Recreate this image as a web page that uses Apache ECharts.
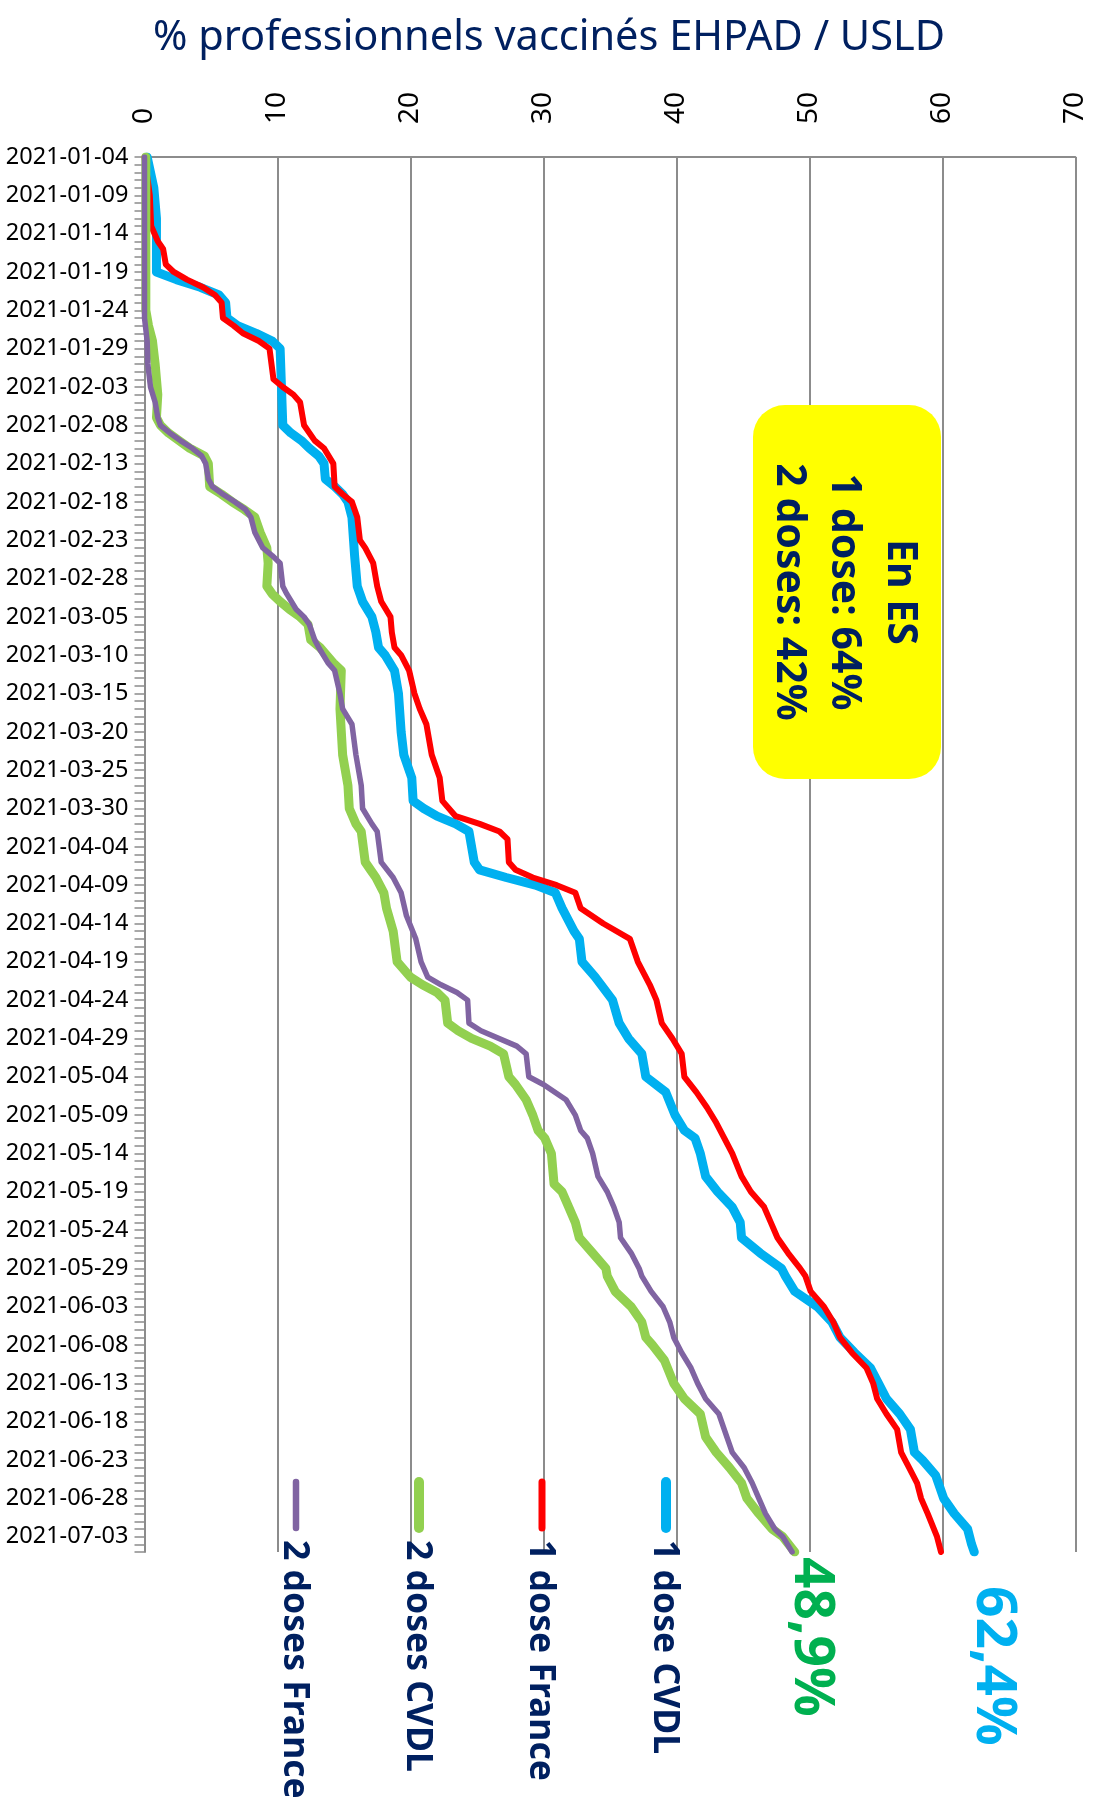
<!DOCTYPE html>
<html><head><meta charset="utf-8">
<script src="https://cdn.jsdelivr.net/npm/echarts@6/dist/echarts.min.js"></script>
<style>html,body{margin:0;padding:0;background:#fff}#c{width:1098px;height:1805px}</style>
</head><body><div id="c"></div>
<script>
// ---- categories (one per day) ----
const startDate = [2021, 0, 4];
const dayCount = 183;
const categories = [];
for (let i = 0; i < dayCount; i++) {
  categories.push(new Date(Date.UTC(startDate[0], startDate[1], startDate[2] + i)).toISOString().slice(0, 10));
}
const valueTicks = [0, 10, 20, 30, 40, 50, 60, 70];
const seriesNames = ['1 dose CVDL', '1 dose France', '2 doses CVDL', '2 doses France'];

// ---- series values: [dayIndex, percent] ----
const dose1CVDL = [[0,0.2],[4,0.7],[8,0.9],[15,0.9],[16,2.4],[17,4.2],[18,5.6],[19,6.1],[21,6.2],[22,7.0],[23,8.4],[24,9.6],[25,10.2],[30,10.3],[35,10.4],[36,11.0],[37,11.8],[38,12.4],[39,13.1],[40,13.5],[42,13.6],[43,14.3],[44,14.9],[45,15.3],[47,15.6],[52,15.8],[56,16.0],[58,16.4],[60,17.1],[62,17.4],[64,17.6],[65,18.1],[67,18.8],[70,19.1],[75,19.3],[78,19.5],[81,20.1],[84,20.2],[85,21.0],[86,22.0],[87,23.4],[88,24.4],[92,24.8],[93,25.2],[94,27.2],[95,29.4],[96,30.9],[98,31.4],[101,32.3],[102,32.7],[105,32.9],[107,33.9],[110,35.2],[113,35.7],[115,36.4],[117,37.4],[120,37.7],[122,39.2],[125,39.9],[127,40.6],[128,41.4],[130,41.8],[133,42.2],[135,43.1],[137,44.2],[139,44.8],[141,44.9],[143,46.3],[145,47.9],[146,48.2],[148,48.9],[150,50.6],[152,51.7],[154,52.3],[156,53.4],[158,54.6],[160,55.2],[162,55.8],[164,56.8],[166,57.6],[169,57.9],[170,58.5],[172,59.5],[175,60.1],[177,60.9],[179,61.9],[181,62.2],[182,62.4]];
const dose1France = [[0,0],[5,0.4],[9,0.5],[11,1.0],[12,1.4],[14,1.6],[15,2.2],[16,3.2],[17,4.4],[18,5.3],[19,5.8],[21,5.9],[22,6.7],[23,7.4],[24,8.6],[25,9.4],[29,9.7],[30,10.4],[31,11.2],[32,11.7],[35,12.0],[37,12.8],[38,13.5],[40,14.2],[43,14.3],[44,14.9],[45,15.6],[47,16.0],[50,16.2],[51,16.6],[53,17.2],[56,17.5],[58,17.8],[60,18.5],[62,18.6],[64,18.8],[65,19.3],[67,19.9],[70,20.3],[72,20.7],[74,21.2],[78,21.6],[81,22.2],[84,22.4],[86,23.4],[87,25.2],[88,26.7],[89,27.3],[92,27.4],[93,27.9],[94,29.2],[95,31.0],[96,32.4],[98,32.8],[100,34.5],[102,36.5],[105,37.1],[108,38.0],[110,38.5],[113,38.9],[115,39.7],[117,40.4],[120,40.6],[122,41.5],[124,42.3],[126,43.0],[128,43.6],[130,44.2],[133,44.9],[135,45.6],[137,46.6],[139,47.1],[141,47.6],[143,48.4],[145,49.3],[146,49.7],[148,50.1],[150,51.1],[152,51.8],[154,52.3],[156,53.2],[158,54.3],[160,54.8],[162,55.1],[164,55.8],[166,56.6],[169,56.9],[171,57.5],[173,58.1],[175,58.4],[177,58.9],[180,59.6],[182,59.9]];
const dose2CVDL = [[0,0.1],[20,0.1],[22,0.3],[24,0.6],[27,0.8],[31,1.0],[34,0.9],[35,1.2],[36,1.8],[37,2.6],[38,3.4],[39,4.5],[40,4.8],[43,4.9],[44,5.8],[45,6.6],[46,7.5],[47,8.3],[49,8.7],[51,9.2],[53,9.3],[56,9.2],[57,9.6],[58,10.2],[59,10.9],[60,11.7],[61,12.3],[63,12.5],[64,13.2],[66,14.2],[67,14.8],[72,14.7],[75,14.8],[78,14.9],[82,15.3],[85,15.4],[87,15.9],[88,16.3],[92,16.6],[93,17.0],[94,17.4],[96,18.0],[98,18.2],[101,18.7],[105,19.0],[107,20.0],[108,20.9],[109,22.0],[110,22.6],[113,22.8],[114,23.6],[115,24.6],[116,26.0],[117,27.0],[120,27.4],[121,27.9],[123,28.7],[125,29.2],[127,29.6],[128,30.1],[130,30.6],[134,30.8],[135,31.4],[137,31.9],[139,32.4],[141,32.7],[143,33.7],[145,34.7],[146,34.8],[148,35.4],[150,36.6],[152,37.4],[154,37.7],[155,38.2],[157,39.1],[160,39.8],[162,40.6],[164,41.8],[167,42.2],[169,43.0],[171,44.0],[173,44.9],[175,45.3],[177,46.2],[179,47.2],[180,48.0],[182,48.9]];
const dose2France = [[0,0],[21,0],[24,0.2],[27,0.25],[30,0.45],[32,0.8],[34,1.0],[35,1.2],[36,1.9],[37,2.7],[38,3.6],[39,4.3],[40,4.6],[42,4.8],[43,5.1],[44,5.9],[45,6.8],[46,7.6],[47,8.0],[49,8.3],[51,8.9],[52,9.6],[53,10.2],[56,10.4],[57,10.7],[59,11.4],[60,12.0],[61,12.4],[63,12.8],[64,13.1],[66,13.8],[67,14.3],[70,14.7],[72,14.9],[74,15.6],[78,15.9],[82,16.3],[85,16.4],[87,17.1],[88,17.5],[92,17.8],[94,18.7],[96,19.3],[99,19.7],[102,20.4],[105,20.8],[107,21.3],[108,22.3],[109,23.5],[110,24.3],[113,24.4],[114,25.3],[116,28.0],[117,28.7],[120,28.9],[121,30.0],[123,31.7],[125,32.4],[127,32.8],[128,33.3],[130,33.7],[133,34.1],[135,34.8],[137,35.3],[139,35.7],[141,35.8],[143,36.6],[145,37.2],[146,37.4],[148,38.1],[150,39.0],[152,39.5],[154,39.8],[156,40.4],[158,41.1],[160,41.6],[162,42.2],[164,43.2],[167,43.8],[169,44.2],[171,45.1],[173,45.7],[175,46.2],[177,46.7],[179,47.4],[180,48.0],[182,48.7]];

const endLabels = ['62,4%', '48,9%'];
const boxLines = ['En ES', '1 dose: 64%', '2 doses: 42%'];

const colors = ['#00B0F0', '#FF0000', '#92D050', '#8064A2'];
const widths = [9, 6, 9, 5.5];
const navy = '#002060';
const grey = '#8C8C8C';
const FONT = 'Noto Sans';

const chart = echarts.init(document.getElementById('c'), null, {renderer: 'canvas'});
const allData = [dose1CVDL, dose1France, dose2CVDL, dose2France];

const ROT = -Math.PI / 2;
function vtext(x, y, text, size, color, align) {
  return {type: 'text', x: x, y: y, rotation: ROT, z: 20,
    style: {text: text, font: 'bold ' + size + 'px "' + FONT + '"', fill: color, align: align || 'left', verticalAlign: 'middle'}};
}
const legendX = [666, 542, 419, 296];
const graphics = [];
// yellow box
graphics.push({type: 'rect', z: 10, shape: {x: 753, y: 405, width: 188, height: 374, r: 32}, style: {fill: '#FFFF00'}});
graphics.push(vtext(900, 592, boxLines[0], 41, navy, 'center'));
graphics.push(vtext(844, 592, boxLines[1], 41, navy, 'center'));
graphics.push(vtext(789, 592, boxLines[2], 41, navy, 'center'));
// legend
seriesNames.forEach(function (n, i) {
  graphics.push({type: 'line', z: 20, shape: {x1: legendX[i], y1: 1482, x2: legendX[i], y2: 1528},
    style: {stroke: colors[i], lineWidth: widths[i] + 1, lineCap: 'round'}});
  graphics.push(vtext(legendX[i] - 2, 1540, n, 35.5, navy, 'left'));
});
// end labels
graphics.push(vtext(993, 1586, endLabels[0], 55, '#00B0F0', 'left'));
graphics.push(vtext(811, 1557, endLabels[1], 55, '#00B050', 'left'));

chart.setOption({
  animation: false,
  backgroundColor: '#ffffff',
  title: {text: '% professionnels vaccinés EHPAD / USLD', left: 'center', top: 12,
    textStyle: {fontFamily: FONT, fontSize: 41.5, fontWeight: 'normal', color: navy}},
  grid: {left: 144.5, right: 22.7, top: 157, bottom: 253},
  xAxis: {type: 'value', position: 'top', min: valueTicks[0], max: valueTicks[valueTicks.length - 1], interval: 10,
    axisLine: {show: true, lineStyle: {color: grey, width: 2}},
    axisTick: {show: false},
    splitLine: {show: true, lineStyle: {color: grey, width: 2}},
    axisLabel: {rotate: -90, margin: 33, color: '#000', fontFamily: FONT, fontSize: 28}},
  yAxis: {type: 'category', inverse: true, boundaryGap: false, data: categories,
    axisLine: {show: true, lineStyle: {color: grey, width: 2}},
    axisTick: {show: true, interval: 0, length: 10, lineStyle: {color: grey, width: 1.5}},
    splitLine: {show: false},
    axisLabel: {interval: 4, margin: 16, color: '#000', fontFamily: FONT, fontSize: 23.5, padding: [9, 0, 0, 0]}},
  series: allData.map(function (arr, i) {
    return {name: seriesNames[i], type: 'line', showSymbol: false, symbol: 'none', z: 2 + i,
      data: arr.map(function (p) { return [p[1], p[0]]; }),
      lineStyle: {color: colors[i], width: widths[i], cap: 'round', join: 'round'}};
  }),
  graphic: graphics
});
</script></body></html>
